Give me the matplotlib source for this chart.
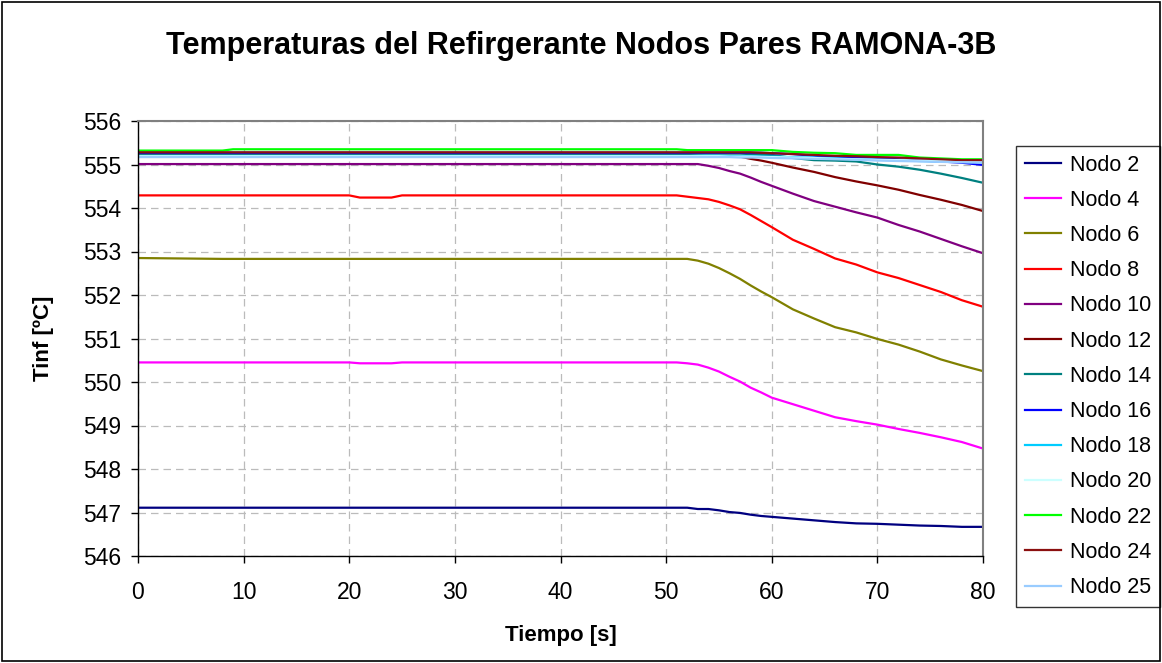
import numpy as np
import matplotlib
matplotlib.use('Agg')
import matplotlib.pyplot as plt
from matplotlib.patches import Rectangle

plt.rcParams['font.family'] = ['Liberation Sans', 'DejaVu Sans']

# time grid [s]
tiempo = [0, 8, 9, 20, 21, 24, 25, 50, 51, 52, 53, 54, 55, 56, 57, 58, 59, 60,
          62, 64, 66, 68, 70, 72, 74, 76, 78, 80]

# coolant temperature per node [C]
nodo2 = [547.11, 547.11, 547.11, 547.11, 547.11, 547.11, 547.11, 547.11, 547.11, 547.11,
         547.08, 547.08, 547.05, 547.01, 546.99, 546.95, 546.92, 546.90,
         546.86, 546.82, 546.78, 546.75, 546.74, 546.72, 546.70, 546.69, 546.67, 546.67]
nodo4 = [550.45, 550.45, 550.45, 550.45, 550.43, 550.43, 550.45, 550.45, 550.45, 550.43,
         550.40, 550.33, 550.24, 550.12, 550.01, 549.87, 549.76, 549.64,
         549.49, 549.34, 549.19, 549.10, 549.02, 548.92, 548.83, 548.73, 548.62, 548.47]
nodo6 = [552.85, 552.83, 552.83, 552.83, 552.83, 552.83, 552.83, 552.83, 552.83, 552.83,
         552.79, 552.72, 552.62, 552.50, 552.37, 552.22, 552.08, 551.95,
         551.67, 551.46, 551.26, 551.14, 550.99, 550.86, 550.70, 550.52, 550.38, 550.25]
nodo8 = [554.29, 554.29, 554.29, 554.29, 554.24, 554.24, 554.29, 554.29, 554.29, 554.26,
         554.23, 554.20, 554.14, 554.06, 553.97, 553.84, 553.70, 553.56,
         553.27, 553.06, 552.84, 552.70, 552.52, 552.39, 552.23, 552.07, 551.88, 551.73]
nodo10 = [555.01, 555.01, 555.01, 555.01, 555.01, 555.01, 555.01, 555.01, 555.01, 555.01,
          555.01, 554.97, 554.92, 554.85, 554.79, 554.70, 554.60, 554.51,
          554.33, 554.16, 554.03, 553.90, 553.78, 553.61, 553.46, 553.29, 553.12, 552.96]
nodo12 = [555.22, 555.22, 555.22, 555.22, 555.22, 555.22, 555.22, 555.22, 555.22, 555.22,
          555.20, 555.19, 555.18, 555.18, 555.18, 555.13, 555.09, 555.04,
          554.93, 554.83, 554.71, 554.61, 554.52, 554.42, 554.30, 554.19, 554.07, 553.93]
nodo14 = [555.25, 555.25, 555.25, 555.25, 555.25, 555.25, 555.25, 555.25, 555.25, 555.25,
          555.25, 555.25, 555.25, 555.25, 555.25, 555.24, 555.23, 555.22,
          555.15, 555.10, 555.09, 555.07, 555.00, 554.95, 554.88, 554.79, 554.69, 554.58]
nodo16 = [555.27, 555.27, 555.27, 555.27, 555.27, 555.27, 555.27, 555.27, 555.27, 555.27,
          555.27, 555.27, 555.27, 555.27, 555.27, 555.27, 555.27, 555.26,
          555.24, 555.20, 555.18, 555.16, 555.14, 555.12, 555.09, 555.07, 555.04, 554.99]
nodo18 = [555.20, 555.20, 555.20, 555.20, 555.20, 555.20, 555.20, 555.20, 555.20, 555.20,
          555.20, 555.20, 555.20, 555.19, 555.19, 555.19, 555.18, 555.18,
          555.17, 555.16, 555.14, 555.12, 555.11, 555.10, 555.08, 555.07, 555.06, 555.05]
nodo20 = [555.19, 555.19, 555.19, 555.19, 555.19, 555.19, 555.19, 555.19, 555.19, 555.19,
          555.19, 555.19, 555.19, 555.18, 555.18, 555.18, 555.17, 555.17,
          555.16, 555.15, 555.13, 555.12, 555.11, 555.10, 555.09, 555.08, 555.07, 555.06]
nodo22 = [555.32, 555.32, 555.35, 555.35, 555.35, 555.35, 555.35, 555.35, 555.35, 555.33,
          555.33, 555.33, 555.33, 555.33, 555.33, 555.33, 555.33, 555.33,
          555.29, 555.27, 555.26, 555.22, 555.22, 555.22, 555.16, 555.14, 555.12, 555.12]
nodo24 = [555.28, 555.28, 555.28, 555.28, 555.28, 555.28, 555.28, 555.28, 555.28, 555.28,
          555.28, 555.28, 555.28, 555.28, 555.28, 555.28, 555.27, 555.26,
          555.24, 555.22, 555.20, 555.19, 555.17, 555.16, 555.14, 555.12, 555.10, 555.10]
nodo25 = [555.17, 555.17, 555.17, 555.17, 555.17, 555.17, 555.17, 555.17, 555.17, 555.17,
          555.17, 555.17, 555.17, 555.17, 555.16, 555.16, 555.16, 555.15,
          555.14, 555.13, 555.12, 555.11, 555.09, 555.08, 555.07, 555.06, 555.05, 555.04]

etiquetas = ['Nodo 2', 'Nodo 4', 'Nodo 6', 'Nodo 8', 'Nodo 10', 'Nodo 12', 'Nodo 14',
             'Nodo 16', 'Nodo 18', 'Nodo 20', 'Nodo 22', 'Nodo 24', 'Nodo 25']
series = [nodo2, nodo4, nodo6, nodo8, nodo10, nodo12, nodo14,
          nodo16, nodo18, nodo20, nodo22, nodo24, nodo25]
colores = ['#000080', '#FF00FF', '#808000', '#FF0000', '#800080', '#800000', '#008080',
           '#0000FF', '#00CCFF', '#CCFFFF', '#00FF00', '#8B1010', '#99CCFF']

fig = plt.figure(figsize=(11.62, 6.63), dpi=100)
ax = fig.add_axes([138/1162, 1-556/663, (983-138)/1162, (556-121)/663])

for vals, lab, col in zip(series, etiquetas, colores):
    ax.plot(tiempo, vals, color=col, lw=1.6, label=lab)

ax.set_xlim(0, 80)
ax.set_ylim(546, 556)
ax.set_xticks(np.arange(0, 81, 10))
ax.set_yticks(np.arange(546, 557, 1))
ax.grid(True, color='#BBBBBB', linestyle=(0, (6, 4)), linewidth=0.9)
ax.set_axisbelow(True)
for s in ['top', 'right']:
    ax.spines[s].set_color('#808080')
    ax.spines[s].set_linewidth(1.5)
for s in ['left', 'bottom']:
    ax.spines[s].set_color('black')
    ax.spines[s].set_linewidth(1.0)
ax.tick_params(direction='out', length=5, width=1, labelsize=16.5)
ax.tick_params(axis='x', pad=13)
ax.tick_params(axis='y', pad=7)

ax.set_xlabel('Tiempo [s]', fontsize=16, fontweight='bold')
ax.set_ylabel('Tinf [ºC]', fontsize=16, fontweight='bold')
ax.xaxis.set_label_coords((138+983)/2/1162, 1-636/663, transform=fig.transFigure)
ax.yaxis.set_label_coords(44/1162, 1-338/663, transform=fig.transFigure)
ax.xaxis.label.set_va('center')
ax.yaxis.label.set_va('center')

fig.text(0.5, 1-46/663, 'Temperaturas del Refirgerante Nodos Pares RAMONA-3B',
         ha='center', va='center', fontsize=22, fontweight='bold')

leg = ax.legend(loc='upper left', bbox_to_anchor=(1016/1162, 1-146/663),
                bbox_transform=fig.transFigure, borderaxespad=0, fontsize=15.5,
                frameon=True, fancybox=False, handlelength=1.7, handletextpad=0.4,
                labelspacing=0.66, borderpad=0.4)
leg.get_frame().set_edgecolor('black')
leg.get_frame().set_linewidth(1.0)

fig.patches.append(Rectangle((0.002, 0.003), 0.996, 0.994, transform=fig.transFigure,
                             fill=False, edgecolor='black', lw=1.2))

fig.savefig('out.png', dpi=100)
